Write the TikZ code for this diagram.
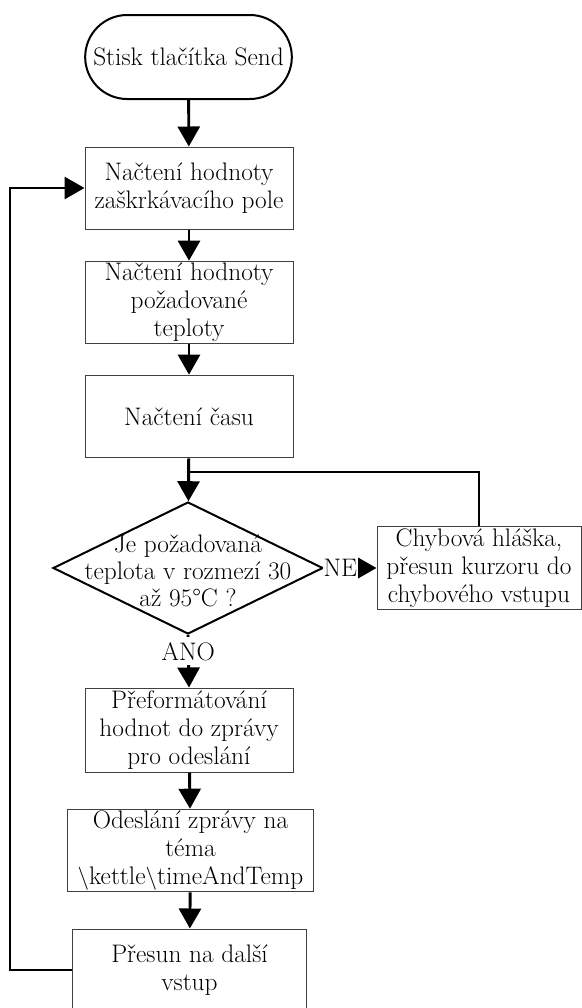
\documentclass[tikz,border=0pt]{standalone}
\usepackage{fontspec}
\usepackage{xcolor}
\usepackage{tikz}
\usetikzlibrary{shapes.geometric,arrows.meta}

\tikzset{
  procbox/.style={draw=black!75, line width=0.75pt, inner sep=1pt, align=center},
  flow/.style={line width=2.2pt, -{Triangle[length=15pt,width=16.5pt]}},
  plainline/.style={line width=2.2pt},
  lbl/.style={fill=white, inner xsep=0.5pt, inner ysep=3.5pt},
}

\begin{document}
\begin{tikzpicture}[x=0.75pt,y=0.75pt,yscale=-1,xscale=1,
    every node/.style={font=\fontsize{19}{21}\selectfont}]
        \useasboundingbox (0,0) rectangle (582,1008);

        \node [draw, line width=1.5pt, rounded corners=31.5pt, minimum width=155pt, minimum height=63pt, inner sep=0pt] (start) at (188.5,57) {Stisk tlačítka Send};
        \node [procbox, minimum width=156pt, minimum height=61.5pt] (nacteniPole) at (189,188) {Načtení hodnoty\\zaškrkávacího pole};
        \node [procbox, minimum width=156pt, minimum height=62pt] (nacteniTeploty) at (189,302.5) {Načtení hodnoty\\požadované\\teploty};
        \node [procbox, minimum width=156pt, minimum height=62pt] (nacteniCasu) at (189,416.5) {Načtení času};
        \node [draw, shape=diamond, line width=1.5pt, minimum width=202.5pt, minimum height=99pt, inner sep=0pt] (dotaz) at (188,568) {};
        \node [align=center, inner sep=0pt, font=\fontsize{19}{20}\selectfont] (dotazText) at (188,571) {Je požadovaná\\teplota v rozmezí 30\\až 95°C ?};
        \node [procbox, minimum width=153pt, minimum height=62pt] (chyba) at (479,568) {Chybová hláška,\\přesun kurzoru do\\chybového vstupu};
        \node [procbox, minimum width=156pt, minimum height=63pt] (preformat) at (189,730) {Přeformátování\\hodnot do zprávy\\pro odeslání};
        \node [procbox, minimum width=185pt, minimum height=62pt] (odeslani) at (190.5,850.5) {Odeslání zprávy na\\téma\\$\backslash$kettle$\backslash$timeAndTemp};
        \node [procbox, minimum width=175pt, minimum height=61.5pt] (presun) at (189.5,970) {Přesun na další\\vstup};

        \coordinate (merge) at (189,472);
        \coordinate (loopcorner) at (10,970);

        \draw [flow] (start) -- (nacteniPole);
        \draw [flow] (nacteniPole) -- (nacteniTeploty);
        \draw [flow] (nacteniTeploty) -- (nacteniCasu);
        \draw [flow] (nacteniCasu) -- (dotaz);
        \draw [plainline] (chyba.north) |- (merge);
        \draw [flow] (dotaz.east) -- node [lbl, pos=0.31] {NE} (chyba.west);
        \draw [flow] (dotaz.south) -- node [lbl, pos=0.31] {ANO} (preformat.north);
        \draw [flow] (preformat) -- (odeslani);
        \draw [flow] (odeslani) -- (presun);
        \draw [flow] (presun.west) -- (loopcorner) |- (nacteniPole.west);
    \end{tikzpicture}
\end{document}
